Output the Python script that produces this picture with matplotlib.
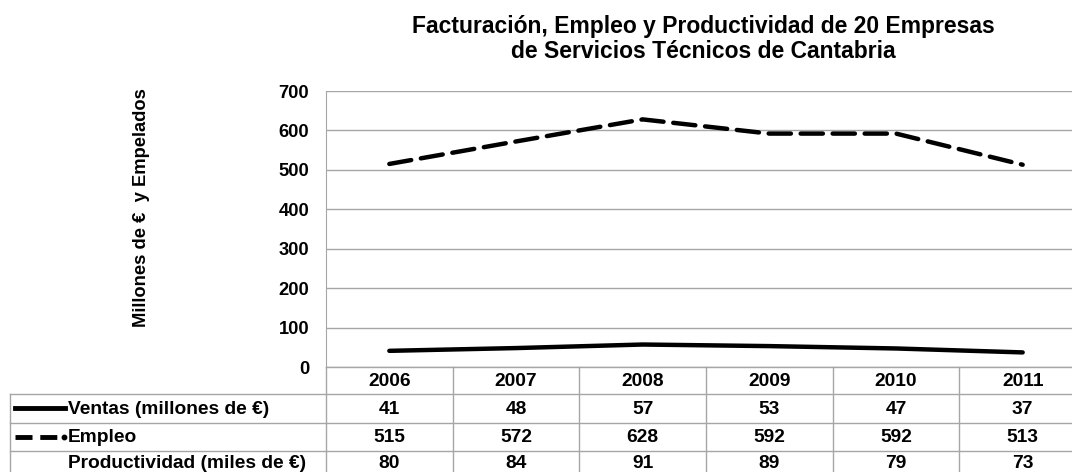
import matplotlib
matplotlib.use('Agg')
import matplotlib.pyplot as plt
import numpy as np

plt.rcParams['font.family'] = ['Liberation Sans', 'DejaVu Sans']
plt.rcParams['font.weight'] = 'bold'

years = ['2006', '2007', '2008', '2009', '2010', '2011']
ventas = [41, 48, 57, 53, 47, 37]
empleo = [515, 572, 628, 592, 592, 513]
productividad = [80, 84, 91, 89, 79, 73]
row_labels = ['Ventas (millones de €)', 'Empleo', 'Productividad (miles de €)']

title_lines = ['Facturación, Empleo y Productividad de 20 Empresas',
               'de Servicios Técnicos de Cantabria']
ylabel = 'Millones de €  y Empelados'
yticks = [0, 100, 200, 300, 400, 500, 600, 700]

W, H = 1072, 472
fig = plt.figure(figsize=(W / 100, H / 100), dpi=100)

def px(x0, y0, x1, y1):
    # pixel box (top-left origin) -> figure fraction rect
    return [x0 / W, 1 - y1 / H, (x1 - x0) / W, (y1 - y0) / H]

grid_col = '#a6a6a6'
ax = fig.add_axes(px(326, 91, 1086, 367))
x = np.arange(len(years))
ax.plot(x, ventas, color='black', lw=3.2, solid_capstyle='round')
ax.plot(x, empleo, color='black', lw=3.2, dashes=(5, 2.2), dash_capstyle='round')
ax.set_xlim(-0.5, len(years) - 0.5)
ax.set_ylim(0, 700)
ax.set_yticks(yticks)
ax.set_yticklabels([str(t) for t in yticks], fontsize=13.2, fontweight='bold')
ax.tick_params(axis='y', length=0, pad=12)
ax.set_xticks([])
ax.grid(axis='y', color=grid_col, lw=1)
for s in ['top', 'right', 'bottom']:
    ax.spines[s].set_visible(False)
ax.spines['left'].set_color(grid_col)
ax.set_axisbelow(True)

fig.text(142 / W, 1 - 208 / H, ylabel, rotation=90, ha='center', va='center',
         fontsize=13.2, fontweight='bold')
fig.text(703 / W, 1 - 33 / H, title_lines[0], ha='center', va='baseline',
         fontsize=16.5, fontweight='bold')
fig.text(703 / W, 1 - 58 / H, title_lines[1], ha='center', va='baseline',
         fontsize=16.5, fontweight='bold')

# data table below the plot
tab = fig.add_axes(px(326, 367, 1086, 479))
tab.set_xlim(-0.5, len(years) - 0.5)
tab.set_ylim(112, 0)
tab.axis('off')
row_edges = [0, 27, 56, 84, 112]
text_y = [14, 42, 71, 96.5]
for yy in row_edges:
    tab.plot([-0.5, len(years) - 0.5], [yy, yy], color=grid_col, lw=1, clip_on=False)
for i in range(len(years) + 1):
    tab.plot([i - 0.5, i - 0.5], [0, 112], color=grid_col, lw=1, clip_on=False)

rows = [years, ventas, empleo, productividad]
for r, vals in enumerate(rows):
    for i, v in enumerate(vals):
        tab.text(i, text_y[r], str(v), ha='center', va='center', fontsize=13.8,
                 fontweight='bold')

# row-label column, drawn in figure pixels
lab = fig.add_axes(px(0, 367, 326, 479))
lab.set_xlim(0, 326)
lab.set_ylim(112, 0)
lab.axis('off')
for yy in row_edges[1:]:
    lab.plot([10, 326], [yy, yy], color=grid_col, lw=1, clip_on=False)
lab.plot([10, 10], [27, 112], color=grid_col, lw=1, clip_on=False)
for r, name in enumerate(row_labels):
    lab.text(68, text_y[r + 1], name, ha='left', va='center', fontsize=13.8,
             fontweight='bold')
yc = text_y[1] - 1
lab.plot([15, 65], [yc, yc], color='black', lw=3.5)
yc = text_y[2] - 1
lab.plot([15, 58], [yc, yc], color='black', lw=3.5, dashes=(3.5, 1.6))
lab.plot([64], [yc], 'o', color='black', ms=3.2)

fig.savefig('out.png', dpi=100)
